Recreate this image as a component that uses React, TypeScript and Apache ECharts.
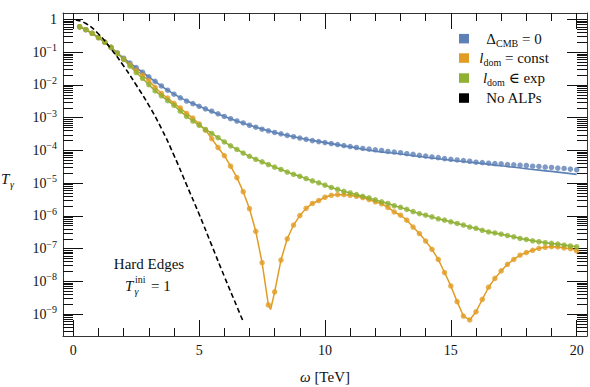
import React, { useEffect, useRef } from "react";
import * as echarts from "echarts";

// photon energy grid (TeV) of the sampled points
const omega = [
  0.25, 0.5, 0.75, 1, 1.25, 1.5, 1.75, 2, 2.25, 2.5, 2.75, 3, 3.25, 3.5, 3.75, 4,
  4.25, 4.5, 4.75, 5, 5.25, 5.5, 5.75, 6, 6.25, 6.5, 6.75, 7, 7.25, 7.5, 7.75, 8,
  8.25, 8.5, 8.75, 9, 9.25, 9.5, 9.75, 10, 10.25, 10.5, 10.75, 11, 11.25, 11.5, 11.75, 12,
  12.25, 12.5, 12.75, 13, 13.25, 13.5, 13.75, 14, 14.25, 14.5, 14.75, 15, 15.25, 15.5, 15.75, 16,
  16.25, 16.5, 16.75, 17, 17.25, 17.5, 17.75, 18, 18.25, 18.5, 18.75, 19, 19.25, 19.5, 19.75, 20,
];

// log10(T_gamma)
const blueDots = [
  -0.22, -0.31, -0.42, -0.55, -0.69, -0.85, -1.02, -1.18, -1.33, -1.47, -1.61, -1.75, -1.89, -2.03, -2.16, -2.28,
  -2.39, -2.49, -2.57, -2.65, -2.73, -2.8, -2.88, -2.96, -3.03, -3.1, -3.16, -3.23, -3.29, -3.35, -3.4, -3.45,
  -3.49, -3.54, -3.58, -3.62, -3.66, -3.7, -3.73, -3.76, -3.79, -3.82, -3.85, -3.88, -3.91, -3.94, -3.96, -3.98,
  -4.0, -4.03, -4.05, -4.07, -4.1, -4.12, -4.15, -4.17, -4.2, -4.22, -4.25, -4.27, -4.29, -4.31, -4.33, -4.36,
  -4.37, -4.39, -4.4, -4.41, -4.43, -4.44, -4.45, -4.46, -4.48, -4.49, -4.51, -4.52, -4.54, -4.55, -4.57, -4.59,
];

const orangeDots = [
  -0.22, -0.31, -0.42, -0.55, -0.69, -0.85, -1.03, -1.21, -1.38, -1.55, -1.7, -1.87, -2.07, -2.26, -2.4, -2.56,
  -2.7, -2.87, -3.01, -3.19, -3.38, -3.64, -3.91, -4.16, -4.48, -4.83, -5.26, -5.78, -6.47, -7.43, -8.72, -8.32,
  -7.35, -6.7, -6.28, -5.99, -5.77, -5.62, -5.53, -5.43, -5.37, -5.35, -5.35, -5.37, -5.4, -5.44, -5.5, -5.57,
  -5.63, -5.74, -5.88, -5.98, -6.13, -6.34, -6.54, -6.77, -7.02, -7.33, -7.73, -8.14, -8.62, -9.06, -9.18, -8.93,
  -8.55, -8.18, -7.91, -7.68, -7.48, -7.33, -7.2, -7.12, -7.05, -6.99, -6.96, -6.94, -6.95, -6.98, -7.0, -7.07,
];

const greenDots = [
  -0.22, -0.31, -0.42, -0.55, -0.69, -0.85, -1.03, -1.22, -1.42, -1.62, -1.8, -1.99, -2.18, -2.33, -2.48, -2.62,
  -2.8, -2.96, -3.1, -3.23, -3.36, -3.48, -3.61, -3.74, -3.86, -3.97, -4.08, -4.18, -4.27, -4.35, -4.43, -4.51,
  -4.58, -4.66, -4.73, -4.79, -4.86, -4.93, -4.99, -5.06, -5.13, -5.19, -5.25, -5.3, -5.35, -5.4, -5.45, -5.51,
  -5.57, -5.62, -5.69, -5.74, -5.8, -5.87, -5.93, -5.98, -6.03, -6.09, -6.13, -6.18, -6.23, -6.28, -6.34, -6.38,
  -6.44, -6.49, -6.52, -6.56, -6.6, -6.64, -6.69, -6.72, -6.76, -6.79, -6.82, -6.84, -6.86, -6.89, -6.92, -6.94,
];

// solid blue curve (analytic), log10
const blueLineOmega = [0.25, 1, 2, 3, 4, 5, 6, 7, 8, 9, 10, 11, 12, 13, 14, 15, 16, 17, 18, 19, 20];
const blueLine = [
  -0.22, -0.55, -1.18, -1.75, -2.28, -2.65, -2.96, -3.23, -3.45, -3.62, -3.76, -3.89, -4.02, -4.11, -4.21, -4.3,
  -4.38, -4.47, -4.56, -4.64, -4.73,
];

// extra points of the orange curve between samples (first dip)
const orangeDipOmega = [7.84];
const orangeDip = [-8.86];

// no ALPs, log10
const noAlpOmega = [0.1, 0.5, 1, 1.5, 2, 2.5, 3, 3.5, 4, 4.5, 5, 5.5, 6, 6.5, 6.75];
const noAlp = [-0.01, -0.12, -0.44, -0.9, -1.42, -2.0, -2.62, -3.33, -4.15, -5.05, -5.95, -6.9, -7.85, -8.77, -9.23];

const xMajor = [0, 5, 10, 15, 20];
const xMinor = [1, 2, 3, 4, 6, 7, 8, 9, 11, 12, 13, 14, 16, 17, 18, 19];
const yMajor = [-9, -8, -7, -6, -5, -4, -3, -2, -1, 0];

const legendNames = ["Δ{sub|CMB} = 0", "{it|l}{sub|dom} = const", "{it|l}{sub|dom} ∈ exp", "No ALPs"];
const colors = { blue: "#5E81B5", orange: "#E19C24", green: "#8FB032", black: "#000000" };

const X_MIN = -0.41;
const X_MAX = 20.41;
const Y_MIN = -9.67;
const Y_MAX = 0.2;
const FONT = "'Liberation Serif', 'DejaVu Serif', serif";
const FRAME = "#333";

function yMinorTicks(): number[] {
  const out: number[] = [];
  for (let n = -10; n <= 0; n++) {
    for (let k = 2; k <= 9; k++) {
      const v = n + Math.log10(k);
      if (v > Y_MIN && v < Y_MAX) out.push(v);
    }
  }
  return out;
}

const pairs = (xs: number[], ys: number[]) => xs.map((x, i) => [x, ys[i]]);

export default function App() {
  const ref = useRef<HTMLDivElement>(null);
  useEffect(() => {
    document.body.style.margin = "0";
    if (!ref.current) return;
    const chart = echarts.init(ref.current, undefined, { renderer: "svg" });
    const yMin = yMinorTicks();
    const xAx = (pos: string, major: boolean, labels: boolean) => ({
      type: "value",
      position: pos,
      min: X_MIN,
      max: X_MAX,
      axisLine: { show: major, onZero: false, lineStyle: { color: FRAME, width: 1 } },
      axisTick: {
        show: true,
        inside: true,
        length: major ? 16 : 8,
        customValues: major ? xMajor : xMinor,
        lineStyle: { color: "#111", width: 1 },
      },
      axisLabel: labels
        ? { show: true, customValues: xMajor, margin: 7, color: "#111", fontFamily: FONT, fontSize: 14 }
        : { show: false },
      splitLine: { show: false },
    });
    const yAx = (pos: string, major: boolean, labels: boolean) => ({
      type: "value",
      position: pos,
      min: Y_MIN,
      max: Y_MAX,
      axisLine: { show: major, onZero: false, lineStyle: { color: FRAME, width: 1 } },
      axisTick: {
        show: true,
        inside: true,
        length: major ? 20 : 10,
        customValues: major ? yMajor : yMin,
        lineStyle: { color: "#111", width: 1 },
      },
      axisLabel: labels
        ? {
            show: true,
            customValues: yMajor,
            margin: 6,
            color: "#111",
            fontFamily: FONT,
            fontSize: 14,
            formatter: (v: number) => (Math.round(v) === 0 ? "1" : "10{sup|−" + Math.round(-v) + "}"),
            rich: {
              sup: { fontSize: 10, fontFamily: FONT, color: "#111", padding: [0, 0, 9, 0] },
            },
          }
        : { show: false },
      splitLine: { show: false },
    });

    const dotSeries = (name: string, ys: number[], color: string) => ({
      name,
      type: "scatter",
      data: pairs(omega, ys),
      symbol: "circle",
      symbolSize: 5.5,
      itemStyle: { color },
      z: 3,
    });

    const orangeLineData = pairs(omega, orangeDots)
      .concat(pairs(orangeDipOmega, orangeDip))
      .sort((a, b) => a[0] - b[0]);

    const legendY = [38.6, 58, 78, 98];
    const legendColors = [colors.blue, colors.orange, colors.green, colors.black];
    const rich = {
      sub: { fontSize: 10, fontFamily: FONT, color: "#111", padding: [9, 0, 0, 0] },
      it: { fontSize: 15, fontFamily: FONT, fontStyle: "italic", color: "#111" },
    };

    const graphic: any[] = [];
    legendY.forEach((y, i) => {
      graphic.push({
        type: "rect",
        shape: { x: 459, y: y - 4.7, width: 10, height: 9.5 },
        style: { fill: legendColors[i] },
      });
      graphic.push({
        type: "text",
        x: 514,
        y,
        style: {
          text: legendNames[i],
          rich,
          font: "15px " + FONT,
          fill: "#111",
          align: "center",
          verticalAlign: "middle",
        },
      });
    });
    const txt = (text: string, x: number, y: number, font: string, align = "left") => ({
      type: "text",
      x,
      y,
      style: { text, font, fill: "#111", align, verticalAlign: "middle" },
    });
    graphic.push(txt("Hard Edges", 149, 264, "15px " + FONT, "center"));
    graphic.push(txt("T", 125, 286, "italic 15px " + FONT));
    graphic.push(txt("ini", 135, 279, "10px " + FONT));
    graphic.push(txt("γ", 134.5, 291, "italic 10px " + FONT));
    graphic.push(txt("= 1", 151, 286, "15px " + FONT));
    graphic.push(txt("T", 1, 179, "italic 15px " + FONT));
    graphic.push(txt("γ", 10, 184, "italic 10px " + FONT));
    graphic.push({
      type: "text",
      x: 325,
      y: 377,
      style: {
        text: "{it|ω} [TeV]",
        rich,
        font: "15px " + FONT,
        fill: "#111",
        align: "center",
        verticalAlign: "middle",
      },
    });

    chart.setOption({
      animation: false,
      backgroundColor: "#fff",
      grid: { left: 63, right: 3, top: 13, bottom: 51, containLabel: false },
      xAxis: [xAx("bottom", true, true), xAx("bottom", false, false), xAx("top", true, false), xAx("top", false, false)],
      yAxis: [yAx("left", true, true), yAx("left", false, false), yAx("right", true, false), yAx("right", false, false)],
      series: [
        {
          name: "blue line",
          type: "line",
          data: pairs(blueLineOmega, blueLine),
          smooth: true,
          showSymbol: false,
          lineStyle: { color: colors.blue, width: 1.6 },
          z: 2,
        },
        dotSeries("Δ_CMB = 0", blueDots, colors.blue),
        {
          name: "orange line",
          type: "line",
          data: orangeLineData,
          showSymbol: false,
          lineStyle: { color: colors.orange, width: 1.5 },
          z: 2,
        },
        dotSeries("l_dom = const", orangeDots, colors.orange),
        {
          name: "green line",
          type: "line",
          data: pairs(omega, greenDots),
          showSymbol: false,
          lineStyle: { color: colors.green, width: 1.5 },
          z: 2,
        },
        dotSeries("l_dom ∈ exp", greenDots, colors.green),
        {
          name: "No ALPs",
          type: "line",
          data: pairs(noAlpOmega, noAlp),
          smooth: true,
          showSymbol: false,
          lineStyle: { color: colors.black, width: 1.6, type: [5, 3] },
          z: 4,
        },
      ],
      graphic,
    });
    return () => chart.dispose();
  }, []);
  return <div ref={ref} style={{ width: 590, height: 387 }} />;
}
